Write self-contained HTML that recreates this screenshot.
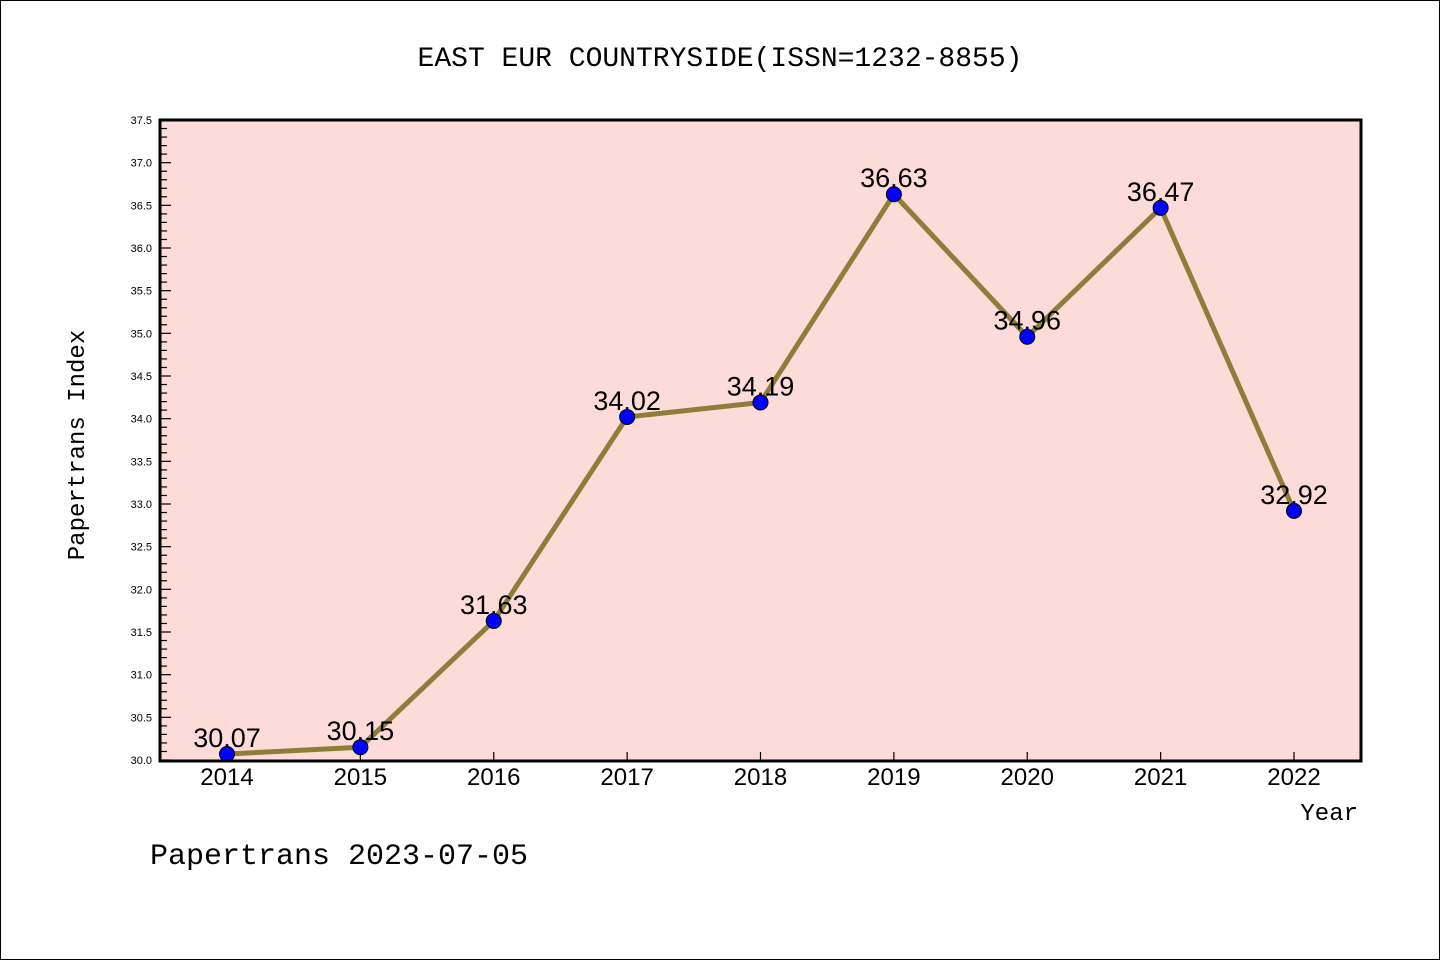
<!DOCTYPE html>
<html><head><meta charset="utf-8"><style>
body{margin:0;background:#fff}
svg text{font-family:"Liberation Sans","DejaVu Sans",sans-serif}
svg text.mono{font-family:"Liberation Mono","DejaVu Sans Mono",monospace}
</style></head><body>
<svg width="1440" height="960" xmlns="http://www.w3.org/2000/svg">
<rect x="0.5" y="0.5" width="1439" height="959" fill="#fff" stroke="#000"/>
<text class="mono" x="720" y="66" text-anchor="middle" font-size="28">EAST EUR COUNTRYSIDE(ISSN=1232-8855)</text>
<rect x="160" y="120" width="1201" height="641" fill="#fddbd8"/>
<g id="yaxis"></g>
<g id="xaxis"></g>
<g id="series"></g>
<rect x="160" y="120" width="1201" height="641" fill="none" stroke="#000" stroke-width="3"/>
<text class="mono" transform="translate(84,445) rotate(-90)" text-anchor="middle" font-size="24">Papertrans Index</text>
<text class="mono" x="1358" y="820" text-anchor="end" font-size="24">Year</text>
<text class="mono" x="150" y="864" font-size="30">Papertrans 2023-07-05</text>
</svg>
<script>
const years=[2014,2015,2016,2017,2018,2019,2020,2021,2022];
const values=[30.07,30.15,31.63,34.02,34.19,36.63,34.96,36.47,32.92];
const yTicks=["30.0","30.5","31.0","31.5","32.0","32.5","33.0","33.5","34.0","34.5","35.0","35.5","36.0","36.5","37.0","37.5"];
const NS="http://www.w3.org/2000/svg";
const yMin=30,yMax=37.5,plotTop=120,plotBot=760;
const yS=v=>plotBot-(v-yMin)/(yMax-yMin)*(plotBot-plotTop);
const xS=yr=>227+(yr-years[0])*(1294-227)/(years[years.length-1]-years[0]);
function mk(tag,attrs,parent){const e=document.createElementNS(NS,tag);for(const k in attrs)e.setAttribute(k,attrs[k]);parent.appendChild(e);return e;}
const ya=document.getElementById('yaxis');
for(let i=0;i<=75;i++){const v=yMin+i*0.1;const major=i%5===0;
 const l=mk('line',{x1:160,x2:major?171:167,y1:yS(v),y2:yS(v),stroke:'#000','stroke-width':1.2},ya);
 
 }
yTicks.forEach(t=>{const e=mk('text',{x:152,y:yS(parseFloat(t))+4,'text-anchor':'end','font-size':11},ya);e.textContent=t;
 
 });
const xa=document.getElementById('xaxis');
years.forEach(yr=>{const l=mk('line',{x1:xS(yr),x2:xS(yr),y1:761,y2:752,stroke:'#000','stroke-width':1.2},xa);
 
 
 const t=mk('text',{x:xS(yr),y:785,'text-anchor':'middle','font-size':24},xa);t.textContent=yr;
 
 });
const s=document.getElementById('series');
const pl=mk('polyline',{points:years.map((yr,i)=>xS(yr)+','+yS(values[i])).join(' '),fill:'none',stroke:'#8f7d3a','stroke-width':5,'stroke-linejoin':'round'},s);


years.forEach((yr,i)=>{const c=mk('circle',{cx:xS(yr),cy:yS(values[i]),r:7.5,fill:'#0000ff',stroke:'#000','stroke-width':1},s);
 
 
 const t=mk('text',{x:xS(yr),y:yS(values[i])-7,'text-anchor':'middle','font-size':27},s);t.textContent=values[i].toFixed(2);
 
 });
</script>
</body></html>
